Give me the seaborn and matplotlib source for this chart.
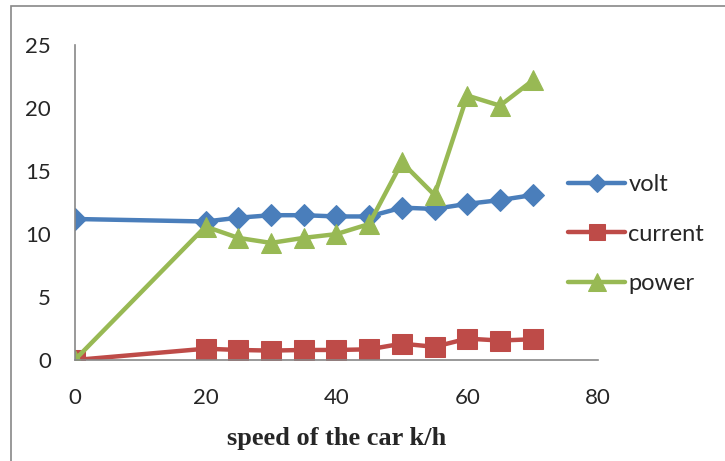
import matplotlib
matplotlib.use("Agg")
import matplotlib.pyplot as plt
import seaborn as sns
import pandas as pd
from matplotlib.patches import Rectangle

speed = [0, 20, 25, 30, 35, 40, 45, 50, 55, 60, 65, 70]
volt = [11.2, 11.0, 11.3, 11.5, 11.5, 11.4, 11.4, 12.1, 12.0, 12.4, 12.7, 13.1]
current = [0.0, 0.9, 0.8, 0.75, 0.8, 0.8, 0.85, 1.3, 1.05, 1.7, 1.55, 1.65]
power = [0.0, 10.6, 9.7, 9.3, 9.7, 10.0, 10.8, 15.7, 13.1, 21.0, 20.2, 22.2]
series_names = ["volt", "current", "power"]
xticks = [0, 20, 40, 60, 80]
yticks = [0, 5, 10, 15, 20, 25]

sns.set_style("white")
plt.rcParams['font.family'] = ['Lato', 'DejaVu Sans']

fig = plt.figure(figsize=(7.25, 4.61), dpi=100)
ax = fig.add_axes([0.103, 0.219, 0.722, 0.683])

colors = ["#4A7EBB", "#BE4B48", "#98B954"]
markers = ["D", "s", "^"]
msizes = [11, 14, 15]
for name, vals, c, m, ms in zip(series_names, [volt, current, power], colors, markers, msizes):
    df = pd.DataFrame({"speed": speed, "value": vals})
    sns.lineplot(data=df, x="speed", y="value", ax=ax, color=c, marker=m,
                 markersize=ms, markeredgecolor=c, linewidth=3.2, label=name)

ax.set_xlim(0, 80)
ax.set_ylim(0, 25)
ax.set_xticks(xticks)
ax.set_yticks(yticks)
ax.tick_params(axis='both', labelsize=16, length=0)
ax.tick_params(axis='x', pad=20)
ax.tick_params(axis='y', pad=17)
for s in ["top", "right"]:
    ax.spines[s].set_visible(False)
for s in ["left", "bottom"]:
    ax.spines[s].set_color("#888888")
    ax.spines[s].set_linewidth(1.2)
ax.set_ylabel("")
ax.set_xlabel("speed of the car k/h", fontsize=19, fontweight="bold",
              family="Liberation Serif", labelpad=14)

leg = ax.legend(loc="center left", bbox_to_anchor=(0.943, 0.40), frameon=False,
                fontsize=17, handlelength=2.4, handletextpad=0.15, labelspacing=1.2,
                borderaxespad=0, borderpad=0)
for h in leg.legend_handles:
    h.set_markersize(h.get_markersize() * 0.85)

fig.patches.append(Rectangle((11 / 725, -0.1), 1.2, 1 - 6 / 461 + 0.1,
                             transform=fig.transFigure, fill=False,
                             edgecolor="#888888", linewidth=1.2))

fig.savefig("out.png", dpi=100)
